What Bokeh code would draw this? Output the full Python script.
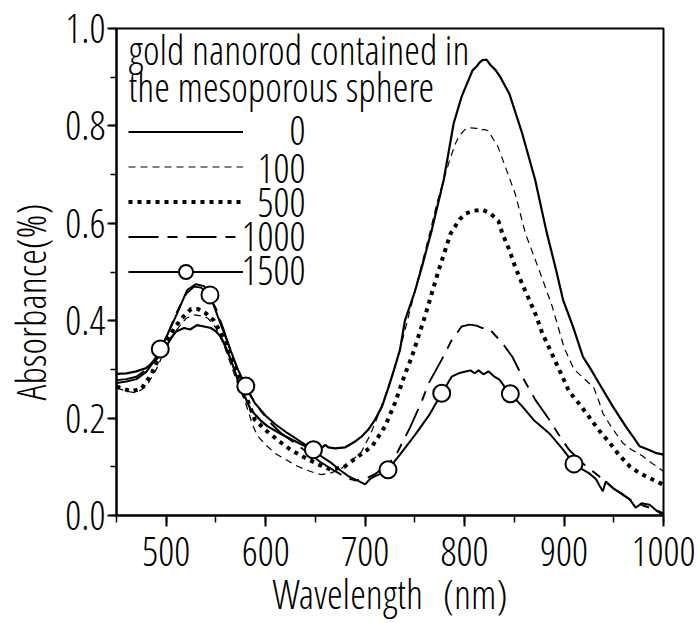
from bokeh.plotting import figure
from bokeh.models import (Range1d, SingleIntervalTicker, PrintfTickFormatter, Legend,
                          LegendItem, Label)
from bokeh.embed import file_html
from bokeh.resources import INLINE

FONT = "'Open Sans Condensed Light', 'Open Sans Condensed', sans-serif"
FS = "40px"
OFF = 15  # baseline correction for screen-unit labels

# ---- data ----
wl_0 = [450, 460, 470, 480, 490, 498, 505, 510, 518, 524, 531, 538, 545, 550, 555, 560, 565, 570,
        575, 580, 585, 595, 602, 615, 626, 640, 649, 657, 660, 663, 670, 680, 690, 697, 703, 710,
        717, 723, 729, 735, 740, 750, 757, 767, 779, 789, 797, 808, 812, 815, 818, 822, 826, 831,
        836, 845, 858, 871, 882, 892, 899, 909, 919, 927, 935, 949, 962, 970, 976, 985, 993, 1000]
ab_0 = [0.291, 0.292, 0.296, 0.303, 0.320, 0.340, 0.365, 0.378, 0.385, 0.382, 0.391, 0.388, 0.385,
        0.378, 0.367, 0.345, 0.320, 0.290, 0.258, 0.240, 0.217, 0.195, 0.183, 0.168, 0.156, 0.142,
        0.137, 0.140, 0.145, 0.140, 0.138, 0.140, 0.152, 0.163, 0.176, 0.197, 0.224, 0.260, 0.299,
        0.340, 0.400, 0.460, 0.510, 0.586, 0.689, 0.805, 0.860, 0.914, 0.922, 0.930, 0.935, 0.936,
        0.925, 0.915, 0.900, 0.866, 0.784, 0.689, 0.586, 0.504, 0.443, 0.388, 0.326, 0.300, 0.272,
        0.224, 0.183, 0.160, 0.142, 0.135, 0.128, 0.125]

wl_100 = [450, 460, 470, 480, 490, 500, 510, 520, 528, 535, 542, 550, 558, 565, 572, 580, 587, 592,
          600, 610, 620, 630, 640, 650, 656, 665, 675, 685, 696, 705, 712, 720, 727, 735, 745, 755,
          765, 772, 779, 784, 790, 794, 800, 806, 812, 816, 819, 824, 829, 833, 841, 851, 861, 875,
          888, 900, 910, 918, 925, 930, 935, 939, 945, 950, 959, 968, 979, 990, 1000]
ab_100 = [0.262, 0.255, 0.252, 0.265, 0.300, 0.345, 0.380, 0.405, 0.412, 0.410, 0.405, 0.385, 0.350,
          0.310, 0.270, 0.230, 0.185, 0.163, 0.145, 0.127, 0.115, 0.103, 0.094, 0.087, 0.084, 0.087,
          0.095, 0.110, 0.130, 0.165, 0.200, 0.245, 0.285, 0.340, 0.420, 0.500, 0.580, 0.640, 0.690,
          0.723, 0.760, 0.777, 0.792, 0.796, 0.795, 0.790, 0.793, 0.790, 0.772, 0.760, 0.716, 0.660,
          0.580, 0.504, 0.430, 0.345, 0.300, 0.285, 0.272, 0.262, 0.235, 0.210, 0.190, 0.175, 0.149,
          0.135, 0.122, 0.105, 0.091]

wl_500 = [450, 457, 465, 475, 485, 494, 502, 510, 518, 525, 532, 540, 548, 555, 562, 570, 577, 583,
          589, 600, 612, 625, 640, 655, 666, 679, 692, 707, 720, 730, 740, 747, 760, 774, 786, 795,
          801, 810, 818, 826, 834, 838, 845, 851, 858, 865, 872, 878, 886, 895, 905, 915, 925, 935,
          946, 955, 966, 975, 986, 993, 1000]
ab_500 = [0.265, 0.260, 0.255, 0.260, 0.290, 0.330, 0.365, 0.390, 0.410, 0.424, 0.424, 0.415, 0.400,
          0.375, 0.340, 0.300, 0.260, 0.230, 0.197, 0.175, 0.155, 0.135, 0.118, 0.103, 0.094, 0.100,
          0.120, 0.142, 0.183, 0.231, 0.290, 0.326, 0.408, 0.504, 0.579, 0.608, 0.620, 0.626, 0.628,
          0.620, 0.605, 0.579, 0.545, 0.510, 0.475, 0.443, 0.410, 0.375, 0.340, 0.300, 0.255, 0.230,
          0.203, 0.175, 0.149, 0.125, 0.101, 0.088, 0.077, 0.070, 0.063]

wl_1000 = [450, 460, 470, 480, 490, 500, 510, 520, 528, 535, 542, 550, 558, 566, 575, 585, 595, 605,
           615, 625, 635, 645, 655, 665, 675, 683, 690, 700, 710, 720, 730, 745, 757, 764, 777, 787,
           797, 805, 812, 818, 824, 838, 848, 858, 871, 885, 895, 905, 920, 935, 950, 966, 980, 992,
           1000]
ab_1000 = [0.278, 0.280, 0.285, 0.300, 0.325, 0.365, 0.415, 0.455, 0.470, 0.468, 0.455, 0.425, 0.380,
           0.330, 0.285, 0.245, 0.215, 0.190, 0.170, 0.155, 0.140, 0.125, 0.110, 0.097, 0.085, 0.076,
           0.072, 0.075, 0.085, 0.100, 0.120, 0.180, 0.235, 0.272, 0.320, 0.360, 0.388, 0.392, 0.390,
           0.385, 0.385, 0.354, 0.326, 0.285, 0.238, 0.197, 0.165, 0.135, 0.105, 0.081, 0.055, 0.033,
           0.020, 0.012, 0.004]

wl_1500 = [450, 460, 470, 480, 488, 494, 502, 511, 521, 530, 538, 544, 552, 562, 572, 580, 589, 600,
           610, 622, 635, 648, 657, 666, 675, 683, 692, 700, 705, 710, 716, 723, 735, 750, 764, 777,
           787, 794, 800, 806, 810, 814, 819, 824, 830, 835, 840, 846, 858, 870, 885, 898, 910, 918,
           925, 932, 936, 939, 942, 950, 958, 966, 972, 978, 986, 993, 1000]
ab_1500 = [0.272, 0.275, 0.280, 0.295, 0.318, 0.342, 0.375, 0.415, 0.463, 0.475, 0.471, 0.453, 0.408,
           0.354, 0.300, 0.266, 0.231, 0.205, 0.187, 0.169, 0.152, 0.135, 0.120, 0.108, 0.093, 0.081,
           0.072, 0.064, 0.075, 0.081, 0.086, 0.094, 0.125, 0.165, 0.205, 0.251, 0.285, 0.292, 0.295,
           0.298, 0.292, 0.298, 0.290, 0.296, 0.285, 0.279, 0.265, 0.250, 0.224, 0.195, 0.169, 0.138,
           0.106, 0.095, 0.087, 0.075, 0.060, 0.050, 0.070, 0.055, 0.045, 0.033, 0.016, 0.025, 0.022,
           0.010, 0.000]

mk_wl_1500 = [494, 544, 580, 648, 723, 777, 846, 910]
mk_ab_1500 = [0.342, 0.453, 0.266, 0.135, 0.094, 0.251, 0.250, 0.106]

legend_labels = ["0", "100", "500", "1000", "1500"]
title_lines = ["gold nanorod contained in", "the mesoporous sphere"]

# ---- figure ----
p = figure(width=699, height=623, x_range=Range1d(450, 1000), y_range=Range1d(0, 1.0),
           output_backend="svg", toolbar_location=None,
           min_border_left=116, min_border_right=36, min_border_top=28, min_border_bottom=107)
p.background_fill_color = "white"
p.border_fill_color = "white"
p.xgrid.visible = False
p.ygrid.visible = False
p.outline_line_color = "black"
p.outline_line_width = 2

r0 = p.line(wl_0, ab_0, line_color="black", line_width=2.2)
r100 = p.line(wl_100, ab_100, line_color="black", line_width=1.2, line_dash="7 5")
r500 = p.line(wl_500, ab_500, line_color="black", line_width=4, line_dash="4 5")
r1000 = p.line(wl_1000, ab_1000, line_color="black", line_width=1.9, line_dash="30 9 10 9")
r1500 = p.line(wl_1500, ab_1500, line_color="black", line_width=2)
m1500 = p.scatter(mk_wl_1500, mk_ab_1500, marker="circle", size=17, line_color="black",
                  line_width=2, fill_color="white")

# axes
p.xaxis.ticker = SingleIntervalTicker(interval=100, num_minor_ticks=2)
p.yaxis.ticker = SingleIntervalTicker(interval=0.2, num_minor_ticks=2)
p.yaxis.formatter = PrintfTickFormatter(format="%.1f")
p.xaxis.axis_label = "Wavelength\u2002(nm)"
p.yaxis.axis_label = "Absorbance(%)\u2002\u2002\u2002"
for ax in (p.xaxis, p.yaxis):
    ax.axis_line_width = 2
    ax.axis_line_color = "black"
    ax.major_tick_line_width = 2
    ax.minor_tick_line_width = 1.5
    ax.major_tick_line_color = "black"
    ax.minor_tick_line_color = "black"
    ax.major_tick_in = 0
    ax.minor_tick_in = 0
    ax.major_label_text_font = FONT
    ax.major_label_text_font_size = FS
    ax.major_label_text_color = "black"
    ax.axis_label_text_font = FONT
    ax.axis_label_text_font_size = FS
    ax.axis_label_text_font_style = "normal"
    ax.axis_label_text_color = "black"
p.xaxis.major_tick_out = 11
p.xaxis.minor_tick_out = 7
p.yaxis.major_tick_out = 9
p.yaxis.minor_tick_out = 6
p.xaxis.major_label_standoff = 10
p.yaxis.major_label_standoff = 2
p.xaxis.axis_label_standoff = -3
p.yaxis.axis_label_standoff = 4

# legend title lines
for txt, base in zip(title_lines, [65, 102]):
    p.add_layout(Label(x=12, y=516 - base + OFF, x_units="screen", y_units="screen", text=txt,
                       text_font=FONT, text_font_size=FS, text_baseline="alphabetic",
                       text_color="black"))

# legend samples (Bokeh legend) with numbers as right-aligned labels
items = [
    LegendItem(label="", renderers=[r0]),
    LegendItem(label="", renderers=[r100]),
    LegendItem(label="", renderers=[r500]),
    LegendItem(label="", renderers=[r1000]),
    LegendItem(label="", renderers=[r1500, m1500]),
]
legend = Legend(items=items, location=(12, 226), glyph_width=115, glyph_height=35,
                label_height=35, label_width=1, spacing=0, padding=0, margin=0, label_standoff=0,
                background_fill_alpha=0, border_line_alpha=0, label_text_font_size="2px")
p.add_layout(legend)

for txt, base in zip(legend_labels, [146, 184, 218, 252, 286]):
    p.add_layout(Label(x=305 - 116, y=516 - base + OFF, x_units="screen", y_units="screen",
                       text=txt, text_font=FONT, text_font_size=FS, text_baseline="alphabetic",
                       text_align="right", text_color="black"))

open("out.html", "w").write(file_html(p, INLINE))
